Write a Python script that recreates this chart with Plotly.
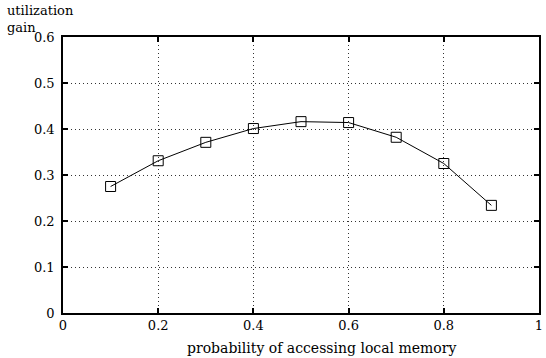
import plotly.graph_objects as go

# probability of local memory access vs. utilization gain
prob = [0.1, 0.2, 0.3, 0.4, 0.5, 0.6, 0.7, 0.8, 0.9]
gain = [0.275, 0.331, 0.371, 0.401, 0.416, 0.414, 0.382, 0.325, 0.234]

x_ticks = [0, 0.2, 0.4, 0.6, 0.8, 1]
x_labels = ["0", "0.2", "0.4", "0.6", "0.8", "1"]
y_ticks = [0, 0.1, 0.2, 0.3, 0.4, 0.5, 0.6]
y_labels = ["0", "0.1", "0.2", "0.3", "0.4", "0.5", "0.6"]

FONT = "DejaVu Serif"
FS = 13

fig = go.Figure()
fig.add_trace(go.Scatter(
    x=prob, y=gain, mode="lines+markers",
    line=dict(color="black", width=1),
    marker=dict(symbol="square-open", size=10, color="black", line=dict(width=1)),
    showlegend=False,
))

axis_common = dict(
    showline=True, linecolor="black", linewidth=1.5, mirror="allticks",
    ticks="inside", ticklen=5, tickcolor="black", tickwidth=1.5,
    showgrid=True, gridcolor="#333333", gridwidth=1, griddash="1px,3px",
    zeroline=False, tickfont=dict(family=FONT, size=FS, color="black"),
)

fig.update_xaxes(range=[0, 1], tickvals=x_ticks, ticktext=x_labels, **axis_common)
fig.update_yaxes(range=[0, 0.6], tickvals=y_ticks, ticktext=y_labels,
                 ticklabelstandoff=4, **axis_common)

# x-axis caption
fig.add_annotation(text="probability of accessing local memory",
                   xref="paper", yref="paper", x=0.544, y=-0.127,
                   xanchor="center", yanchor="middle", showarrow=False,
                   font=dict(family=FONT, size=FS + 1, color="black"))

# y-axis caption above the plot
fig.add_annotation(text="utilization<br>gain", xref="paper", yref="paper",
                   x=-0.122, y=1.13, xanchor="left", yanchor="top",
                   align="left", showarrow=False,
                   font=dict(family=FONT, size=FS, color="black"))

fig.update_layout(
    width=546, height=358,
    margin=dict(l=63, r=3, t=37, b=45),
    paper_bgcolor="white", plot_bgcolor="white",
    font=dict(family=FONT, size=FS, color="black"),
)

fig.write_html("out.html")
